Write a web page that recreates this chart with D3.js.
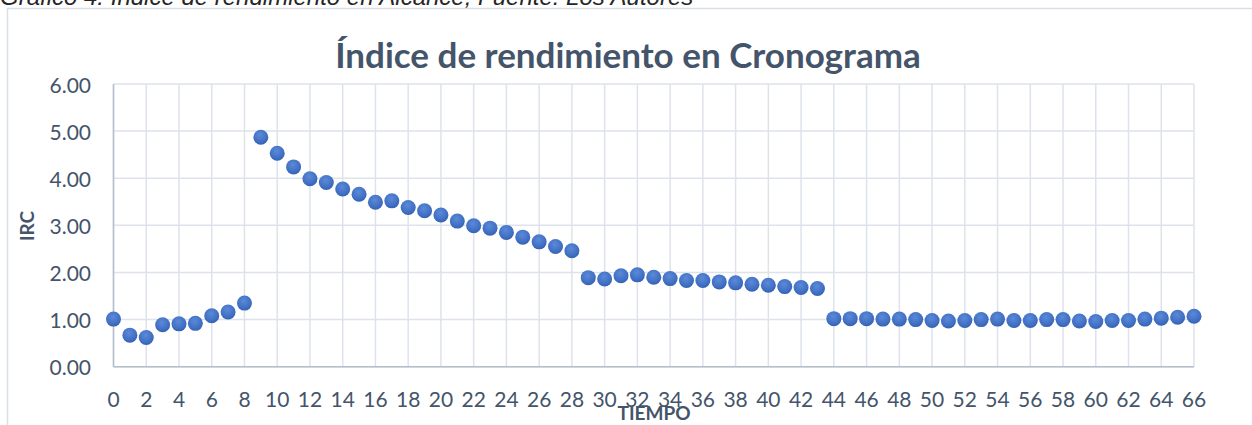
<!DOCTYPE html>
<html lang="es">
<head>
  <meta charset="UTF-8">
  <title>Índice de rendimiento en Cronograma</title>
  <style>
    body {
      margin: 0;
      padding: 0;
      background: #ffffff;
      overflow: hidden;
    }
    .caption {
      font-family: "Liberation Sans", Arial, sans-serif;
      font-style: italic;
      font-size: 24px;
      fill: #262626;
    }
    .title {
      font-family: Lato, "Open Sans", sans-serif;
      font-weight: bold;
      font-size: 35px;
      fill: #44546A;
    }
    .tick-label {
      font-family: Lato, "Open Sans", sans-serif;
      font-size: 21px;
      fill: #44546A;
    }
    .axis-title {
      font-family: Lato, "Open Sans", sans-serif;
      font-weight: bold;
      font-size: 19px;
      fill: #44546A;
    }
    .grid line {
      stroke: #DEE3EB;
      stroke-width: 1.5px;
    }
  </style>
</head>
<body>
  <div id="chart"></div>

  <script src="https://d3js.org/d3.v7.min.js"></script>
  <script>
    // x values (TIEMPO)
    const tiempo = [0, 1, 2, 3, 4, 5, 6, 7, 8, 9, 10, 11, 12, 13, 14, 15, 16, 17, 18, 19,
      20, 21, 22, 23, 24, 25, 26, 27, 28, 29, 30, 31, 32, 33, 34, 35, 36, 37, 38, 39,
      40, 41, 42, 43, 44, 45, 46, 47, 48, 49, 50, 51, 52, 53, 54, 55, 56, 57, 58, 59,
      60, 61, 62, 63, 64, 65, 66];

    // IRC values
    const irc = [1.01, 0.67, 0.62, 0.89, 0.91, 0.92, 1.08, 1.16, 1.35, 4.87,
      4.53, 4.24, 3.99, 3.91, 3.77, 3.66, 3.49, 3.52, 3.38, 3.31,
      3.22, 3.09, 2.99, 2.94, 2.85, 2.75, 2.65, 2.55, 2.46, 1.89,
      1.86, 1.93, 1.95, 1.90, 1.87, 1.83, 1.83, 1.80, 1.78, 1.75,
      1.73, 1.70, 1.68, 1.66, 1.02, 1.02, 1.02, 1.01, 1.01, 1.00,
      0.98, 0.97, 0.98, 1.00, 1.01, 0.98, 0.98, 1.00, 1.00, 0.97,
      0.96, 0.98, 0.98, 1.01, 1.03, 1.05, 1.07];

    const xTicks = [0, 2, 4, 6, 8, 10, 12, 14, 16, 18, 20, 22, 24, 26, 28, 30, 32,
      34, 36, 38, 40, 42, 44, 46, 48, 50, 52, 54, 56, 58, 60, 62, 64, 66];
    const yTicks = [0, 1, 2, 3, 4, 5, 6];

    const W = 1252, H = 425;
    const plot = { left: 113.5, right: 1194, top: 84, bottom: 366.7 };

    const svg = d3.select("#chart")
      .append("svg")
        .attr("width", W)
        .attr("height", H);

    // marker gradient (Excel-like shaded dot)
    const defs = svg.append("defs");
    const grad = defs.append("radialGradient")
      .attr("id", "dot")
      .attr("cx", "45%").attr("cy", "35%").attr("r", "65%");
    grad.append("stop").attr("offset", "0%").attr("stop-color", "#5C8AD9");
    grad.append("stop").attr("offset", "70%").attr("stop-color", "#4170C4");
    grad.append("stop").attr("offset", "100%").attr("stop-color", "#3461B3");

    // figure caption (cut off at top)
    svg.append("text")
      .attr("class", "caption")
      .attr("x", 0)
      .attr("y", 5)
      .text("Gráfico 4. Índice de rendimiento en Alcance, Fuente: Los Autores");

    // chart frame
    svg.append("rect")
      .attr("x", 7.5)
      .attr("y", 8.5)
      .attr("width", W + 20)
      .attr("height", H + 20)
      .attr("fill", "none")
      .attr("stroke", "#DADFE6")
      .attr("stroke-width", 1.5);

    // Scales
    const x = d3.scaleLinear()
      .domain([0, 66])
      .range([plot.left, plot.right]);

    const y = d3.scaleLinear()
      .domain([0, 6])
      .range([plot.bottom, plot.top]);

    // Gridlines
    const grid = svg.append("g").attr("class", "grid");
    grid.selectAll(".vg")
      .data(xTicks)
      .join("line")
        .attr("x1", d => x(d)).attr("x2", d => x(d))
        .attr("y1", plot.top).attr("y2", plot.bottom);
    grid.selectAll(".hg")
      .data(yTicks)
      .join("line")
        .attr("x1", plot.left).attr("x2", plot.right)
        .attr("y1", d => y(d)).attr("y2", d => y(d));

    // Axis lines
    svg.append("line")
      .attr("x1", plot.left).attr("x2", plot.right)
      .attr("y1", plot.bottom).attr("y2", plot.bottom)
      .attr("stroke", "#B4BDCB").attr("stroke-width", 1.5);
    svg.append("line")
      .attr("x1", plot.left).attr("x2", plot.left)
      .attr("y1", plot.top).attr("y2", plot.bottom)
      .attr("stroke", "#B4BDCB").attr("stroke-width", 1.5);

    // Tick labels
    svg.selectAll(".xt")
      .data(xTicks)
      .join("text")
        .attr("class", "tick-label")
        .attr("text-anchor", "middle")
        .attr("x", d => x(d))
        .attr("y", 407)
        .text(d => d);

    svg.selectAll(".yt")
      .data(yTicks)
      .join("text")
        .attr("class", "tick-label")
        .attr("text-anchor", "end")
        .attr("dominant-baseline", "central")
        .attr("x", 91)
        .attr("y", d => y(d))
        .text(d => d3.format(".2f")(d));

    // Points
    const data = tiempo.map((t, i) => ({ t: t, v: irc[i] }));
    svg.append("g")
      .selectAll("circle")
      .data(data)
      .join("circle")
        .attr("cx", d => x(d.t))
        .attr("cy", d => y(d.v))
        .attr("r", 7.5)
        .attr("fill", "url(#dot)");

    // Title
    svg.append("text")
      .attr("class", "title")
      .attr("text-anchor", "middle")
      .attr("x", 628)
      .attr("y", 68)
      .text("Índice de rendimiento en Cronograma");

    // Axis titles
    svg.append("text")
      .attr("class", "axis-title")
      .attr("text-anchor", "middle")
      .attr("x", 654)
      .attr("y", 420)
      .text("TIEMPO");

    svg.append("text")
      .attr("class", "axis-title")
      .attr("text-anchor", "middle")
      .attr("transform", "translate(34,226) rotate(-90)")
      .text("IRC");
  </script>
</body>
</html>
